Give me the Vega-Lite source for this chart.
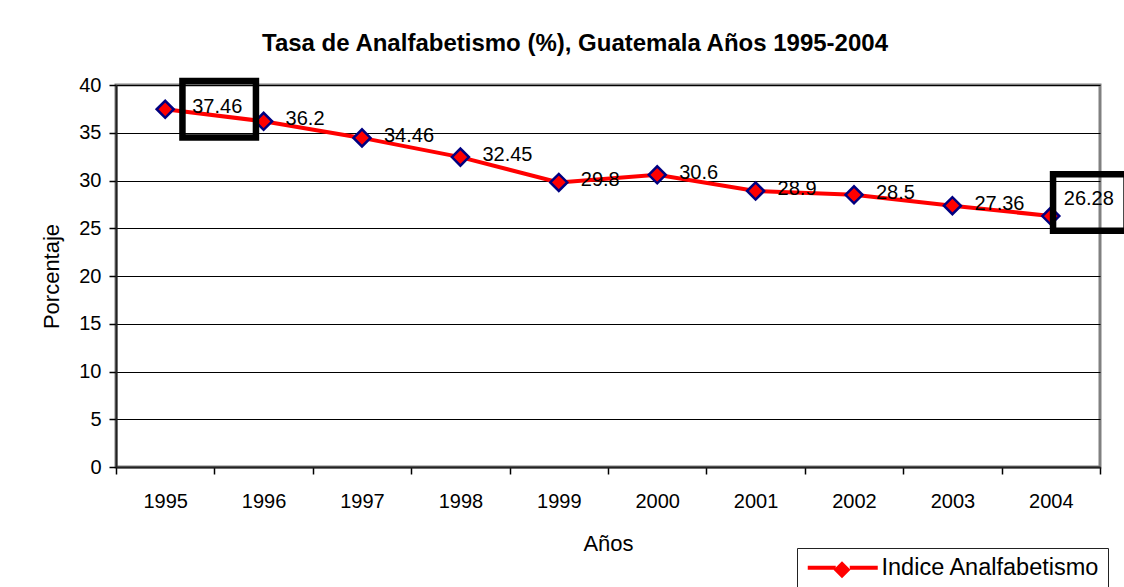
{
  "$schema": "https://vega.github.io/schema/vega-lite/v6.json",
  "autosize": {"type": "none"},
  "width": 984,
  "height": 382,
  "padding": {"left": 116, "top": 85, "right": 24, "bottom": 120},
  "background": "white",
  "config": {
    "font": "Liberation Sans",
    "view": {"stroke": "#808080", "strokeWidth": 3},
    "axis": {"labelColor": "black", "titleColor": "black", "labelFont": "Liberation Sans", "titleFont": "Liberation Sans"}
  },
  "title": {
    "text": "Tasa de Analfabetismo (%), Guatemala Años 1995-2004",
    "frame": "group",
    "anchor": "middle",
    "dx": -33,
    "dy": 45,
    "fontSize": 24,
    "fontWeight": "bold",
    "font": "Liberation Sans",
    "color": "black",
    "baseline": "alphabetic",
    "offset": 38
  },
  "data": {
    "values": [
      {"anio": 1995, "valor": 37.46, "serie": "Indice Analfabetismo"},
      {"anio": 1996, "valor": 36.2, "serie": "Indice Analfabetismo"},
      {"anio": 1997, "valor": 34.46, "serie": "Indice Analfabetismo"},
      {"anio": 1998, "valor": 32.45, "serie": "Indice Analfabetismo"},
      {"anio": 1999, "valor": 29.8, "serie": "Indice Analfabetismo"},
      {"anio": 2000, "valor": 30.6, "serie": "Indice Analfabetismo"},
      {"anio": 2001, "valor": 28.9, "serie": "Indice Analfabetismo"},
      {"anio": 2002, "valor": 28.5, "serie": "Indice Analfabetismo"},
      {"anio": 2003, "valor": 27.36, "serie": "Indice Analfabetismo"},
      {"anio": 2004, "valor": 26.28, "serie": "Indice Analfabetismo"}
    ]
  },
  "encoding": {
    "x": {
      "field": "anio",
      "type": "ordinal",
      "scale": {"type": "band", "paddingInner": 0, "paddingOuter": 0},
      "axis": {
        "title": "Años",
        "titleFontSize": 22,
        "titleFontWeight": "normal",
        "titlePadding": 22,
        "labelFontSize": 20,
        "labelAngle": 0,
        "labelPadding": 17,
        "tickBand": "extent",
        "tickSize": 7,
        "tickColor": "black",
        "tickWidth": 1.5,
        "domainColor": "#222",
        "domainWidth": 2,
        "grid": false
      }
    },
    "y": {
      "field": "valor",
      "type": "quantitative",
      "scale": {"domain": [0, 40], "nice": false, "zero": true},
      "axis": {
        "title": "Porcentaje",
        "titleFontSize": 22,
        "titleFontWeight": "normal",
        "titlePadding": 15,
        "values": [0, 5, 10, 15, 20, 25, 30, 35, 40],
        "labelFontSize": 20,
        "labelPadding": 8,
        "tickSize": 7,
        "tickColor": "black",
        "tickWidth": 1.5,
        "domainColor": "#222",
        "domainWidth": 2,
        "grid": true,
        "gridColor": "black",
        "gridWidth": 1
      }
    }
  },
  "layer": [
    {
      "mark": {"type": "line", "strokeWidth": 4},
      "encoding": {
        "color": {
          "datum": "Indice Analfabetismo",
          "scale": {"range": ["#FF0000"]},
          "legend": {
            "title": null,
            "orient": "none",
            "legendX": 681,
            "legendY": 463,
            "padding": 8,
            "strokeColor": "#222",
            "fillColor": "white",
            "symbolType": "M-5,0L-1,0M1,0L5,0",
            "symbolSize": 196,
            "symbolStrokeWidth": 4,
            "symbolOffset": 26,
            "labelOffset": 27,
            "labelFontSize": 23.5,
            "labelLimit": 400,
            "labelFont": "Liberation Sans",
            "labelColor": "black",
            "zindex": 0
          }
        }
      }
    },
    {
      "mark": {"type": "point", "filled": true, "stroke": "#000080", "strokeWidth": 2.5, "size": 290, "opacity": 1},
      "encoding": {
        "shape": {
          "field": "serie",
          "type": "nominal",
          "scale": {"range": ["diamond"]},
          "legend": {
            "title": null,
            "orient": "none",
            "legendX": 681,
            "legendY": 465,
            "padding": 8,
            "symbolSize": 290,
            "symbolFillColor": "#FF0000",
            "symbolStrokeColor": "#000080",
            "symbolStrokeWidth": 2.5,
            "symbolOffset": 25.25,
            "labelFontSize": 23.5,
            "labelLimit": 400,
            "labelFont": "Liberation Sans",
            "labelExpr": "''",
            "zindex": 1
          }
        },
        "fill": {"value": "#FF0000"}
      }
    },
    {
      "transform": [{"filter": {"not": {"field": "anio", "oneOf": [1995, 2004]}}}],
      "mark": {"type": "text", "align": "left", "baseline": "middle", "dx": 22, "dy": -2, "fontSize": 20, "font": "Liberation Sans", "color": "black"},
      "encoding": {"text": {"field": "valor", "type": "nominal"}}
    },
    {
      "transform": [{"filter": {"field": "anio", "equal": 1995}}],
      "mark": {"type": "text", "align": "left", "baseline": "middle", "dx": 27, "dy": -2, "fontSize": 20, "font": "Liberation Sans", "color": "black"},
      "encoding": {"text": {"field": "valor", "type": "nominal"}}
    },
    {
      "transform": [{"filter": {"field": "anio", "equal": 2004}}],
      "mark": {"type": "text", "align": "left", "baseline": "middle", "dx": 13, "dy": -17, "fontSize": 20, "font": "Liberation Sans", "color": "black"},
      "encoding": {"text": {"field": "valor", "type": "nominal"}}
    },
    {
      "transform": [{"filter": {"field": "anio", "equal": 1995}}],
      "mark": {"type": "point", "shape": "M-1,-0.77L1,-0.77L1,0.77L-1,0.77Z", "size": 5402, "filled": false, "fill": null, "stroke": "black", "strokeWidth": 6.5, "opacity": 1, "xOffset": 54, "yOffset": 0}
    },
    {
      "transform": [{"filter": {"field": "anio", "equal": 2004}}],
      "mark": {"type": "point", "shape": "M-1,-0.77L1,-0.77L1,0.77L-1,0.77Z", "size": 5402, "filled": false, "fill": null, "stroke": "black", "strokeWidth": 6.5, "opacity": 1, "xOffset": 39, "yOffset": -13.5}
    }
  ]
}
